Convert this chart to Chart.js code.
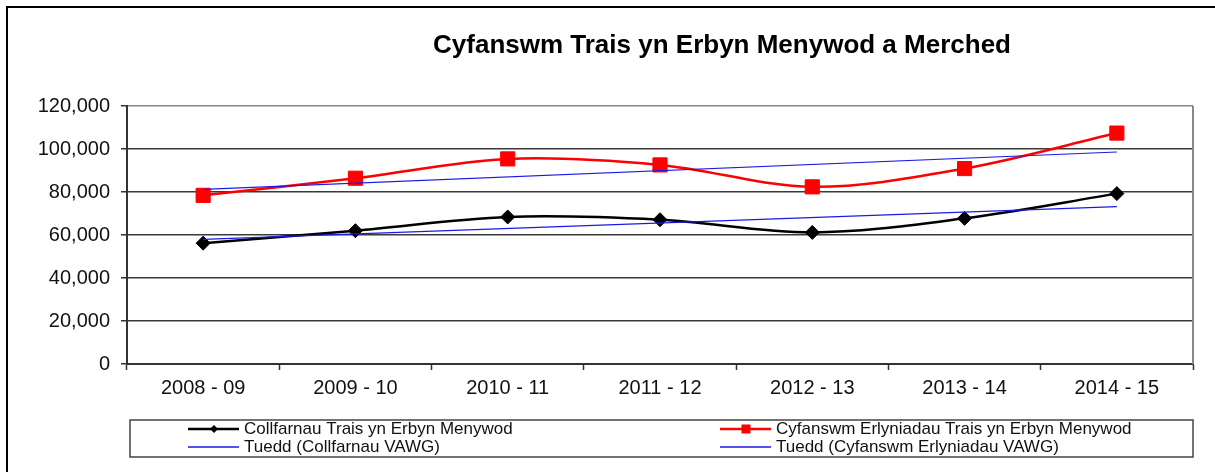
<!DOCTYPE html>
<html>
<head>
<meta charset="utf-8">
<script src="https://cdn.jsdelivr.net/npm/chart.js"></script>
<style>
  html, body { margin: 0; padding: 0; background: #fff; }
  canvas { display: block; }
</style>
</head>
<body>
<canvas id="chart" width="1215" height="472"></canvas>
<script>
const categories = ['2008 - 09', '2009 - 10', '2010 - 11', '2011 - 12', '2012 - 13', '2013 - 14', '2014 - 15'];
const collfarnau = [56200, 62000, 68400, 67100, 61200, 67750, 79250];
const erlyniadau = [78450, 86400, 95400, 92600, 82400, 90900, 107400];
// trend lines: only the two end values
const tueddCollfarnau = [58000, null, null, null, null, null, 73200];
const tueddErlyniadau = [81250, null, null, null, null, null, 98600];
const yTicks = [0, 20000, 40000, 60000, 80000, 100000, 120000];

const FONT = "'Liberation Sans', Arial, sans-serif";
const TITLE = 'Cyfanswm Trais yn Erbyn Menywod a Merched';

// frame, title and the boxed two-column legend
const decor = {
  id: 'decor',
  beforeDraw(chart) {
    const ctx = chart.ctx;
    ctx.save();
    ctx.strokeStyle = '#000';
    ctx.lineWidth = 2;
    ctx.beginPath();
    ctx.moveTo(7, 472);
    ctx.lineTo(7, 7);
    ctx.lineTo(1215, 7);
    ctx.stroke();
    ctx.restore();
  },
  beforeDatasetsDraw(chart) {
    const { ctx, chartArea } = chart;
    ctx.save();
    ctx.strokeStyle = '#888';
    ctx.lineWidth = 2;
    ctx.beginPath();
    ctx.moveTo(chartArea.right, chartArea.top);
    ctx.lineTo(chartArea.right, chartArea.bottom);
    ctx.stroke();
    ctx.restore();
  },
  afterDraw(chart) {
    const ctx = chart.ctx;
    ctx.save();
    ctx.fillStyle = '#000';
    ctx.font = 'bold 26px ' + FONT;
    ctx.textAlign = 'center';
    ctx.textBaseline = 'alphabetic';
    ctx.fillText(TITLE, 722, 53);

    // legend box
    ctx.strokeStyle = '#444';
    ctx.lineWidth = 1.5;
    ctx.strokeRect(130, 420, 1063, 37);

    const slots = [
      { x: 188, y: 429 }, { x: 720, y: 429 },
      { x: 188, y: 447 }, { x: 720, y: 447 }
    ];
    ctx.font = '17px ' + FONT;
    ctx.textAlign = 'left';
    ctx.textBaseline = 'middle';
    chart.data.datasets.forEach((ds, i) => {
      const s = slots[i];
      ctx.strokeStyle = ds.borderColor;
      ctx.lineWidth = ds.legendLine;
      ctx.beginPath();
      ctx.moveTo(s.x, s.y);
      ctx.lineTo(s.x + 51, s.y);
      ctx.stroke();
      const cx = s.x + 26;
      ctx.fillStyle = ds.pointBackgroundColor;
      if (ds.pointStyle === 'rectRot' && ds.pointRadius > 0) {
        ctx.beginPath();
        ctx.moveTo(cx - 4, s.y);
        ctx.lineTo(cx, s.y - 4);
        ctx.lineTo(cx + 4, s.y);
        ctx.lineTo(cx, s.y + 4);
        ctx.closePath();
        ctx.fill();
      } else if (ds.pointStyle === 'rect' && ds.pointRadius > 0) {
        ctx.fillRect(cx - 4.5, s.y - 4.5, 9, 9);
      }
      ctx.fillStyle = '#111';
      ctx.fillText(ds.label, s.x + 56, s.y);
    });
    ctx.restore();
  }
};

new Chart(document.getElementById('chart'), {
  type: 'line',
  data: {
    labels: categories,
    datasets: [
      {
        label: 'Collfarnau Trais yn Erbyn Menywod',
        data: collfarnau,
        borderColor: '#000',
        borderWidth: 2.5,
        legendLine: 2.5,
        tension: 0.33,
        pointStyle: 'rectRot',
        pointRadius: 7,
        pointBackgroundColor: '#000',
        pointBorderColor: '#000',
        pointBorderWidth: 1,
        order: 1
      },
      {
        label: 'Cyfanswm Erlyniadau Trais yn Erbyn Menywod',
        data: erlyniadau,
        borderColor: '#ff0000',
        borderWidth: 2.5,
        legendLine: 2.5,
        tension: 0.33,
        pointStyle: 'rect',
        pointRadius: 10,
        pointBackgroundColor: '#ff0000',
        pointBorderColor: '#ff0000',
        pointBorderWidth: 1,
        order: 1
      },
      {
        label: 'Tuedd (Collfarnau VAWG)',
        data: tueddCollfarnau,
        borderColor: '#1a1ae6',
        borderWidth: 1.2,
        legendLine: 1.5,
        spanGaps: true,
        tension: 0,
        pointRadius: 0,
        pointStyle: 'line',
        order: 0
      },
      {
        label: 'Tuedd (Cyfanswm Erlyniadau VAWG)',
        data: tueddErlyniadau,
        borderColor: '#1a1ae6',
        borderWidth: 1.2,
        legendLine: 1.5,
        spanGaps: true,
        tension: 0,
        pointRadius: 0,
        pointStyle: 'line',
        order: 0
      }
    ]
  },
  options: {
    responsive: false,
    animation: false,
    events: [],
    layout: { padding: { top: 106, right: 22, bottom: 0, left: 0 } },
    plugins: {
      legend: { display: false },
      title: { display: false },
      tooltip: { enabled: false }
    },
    scales: {
      x: {
        offset: true,
        afterFit: (s) => { s.height = 108; },
        grid: {
          offset: true,
          drawOnChartArea: false,
          drawTicks: true,
          tickLength: 6,
          tickColor: '#333',
          tickWidth: 1.5
        },
        border: { display: true, color: '#333', width: 2 },
        ticks: {
          color: '#111',
          padding: 6,
          maxRotation: 0,
          font: { family: FONT, size: 20 }
        }
      },
      y: {
        min: 0,
        max: 120000,
        afterFit: (s) => { s.width = 127; },
        afterBuildTicks: (s) => { s.ticks = yTicks.map(v => ({ value: v })); },
        grid: {
          color: (c) => (c.tick && c.tick.value === 120000 ? '#888' : '#3a3a3a'),
          lineWidth: 1.5,
          drawTicks: true,
          tickLength: 6,
          tickColor: '#333'
        },
        border: { display: true, color: '#333', width: 2 },
        ticks: {
          color: '#111',
          padding: 11,
          font: { family: FONT, size: 20 },
          callback: (v) => v.toLocaleString('en-US')
        }
      }
    }
  },
  plugins: [decor]
});
</script>
</body>
</html>
